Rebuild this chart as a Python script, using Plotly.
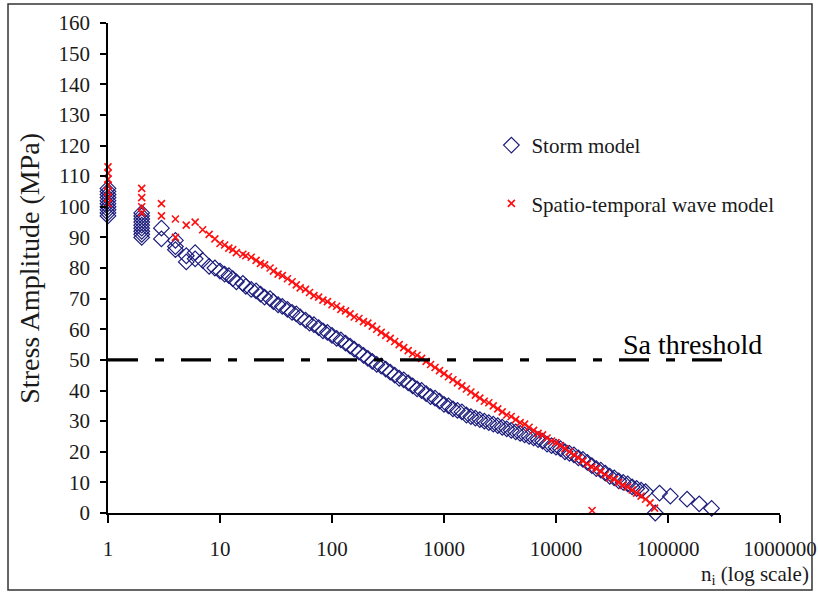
import plotly.graph_objects as go

# ---------------- data ----------------
storm_n = [1, 1, 1, 1, 1, 1, 1, 1, 1, 1,
           2, 2, 2, 2, 2, 2, 2, 2, 2,
           3, 3, 4, 4, 4, 5, 5, 6, 6, 7, 8, 9,
           10, 11, 12, 13, 14, 16, 17, 19, 21, 23, 25, 28, 30, 33, 36, 40, 44, 48, 52, 58, 63, 69, 76, 83, 91,
           100, 110, 120, 132, 145, 158, 174, 191, 209, 229, 251, 275, 302, 331, 363, 398, 437, 479, 525, 575,
           631, 692, 759, 832, 912,
           1000, 1096, 1202, 1318, 1445, 1585, 1738, 1905, 2089, 2291, 2512, 2754, 3020, 3311, 3631, 3981,
           4365, 4786, 5248, 5754, 6310, 6918, 7586, 8318, 9120,
           10000, 10965, 12023, 13183, 14454, 15849, 17378, 19055, 20893, 22909, 25119, 27542, 30200, 33113,
           36308, 39811, 43652, 47863, 52481, 57544, 63096,
           84000, 105000, 148000, 190000, 245000, 77000]
storm_s = [97, 98, 99, 100, 101, 102, 103, 104, 105, 106,
           90, 91, 92, 93, 94, 95, 96, 97, 98,
           93, 89.5, 89, 87, 86, 84, 82, 85, 83, 82.5, 80.5, 80,
           79, 78, 77.5, 76.5, 75.5, 75, 74, 73, 72.5, 71.5, 70.5, 70, 69, 68, 67.5, 66.5, 65.5, 65, 64, 63,
           62, 61.5, 60.5, 59.5, 59,
           58, 57, 56.5, 55.5, 54.5, 53.5, 52.5, 51.5, 50.5, 49.5, 48.5, 48, 47, 46, 45, 44, 43.5, 42.5, 41.5,
           40.5, 40, 39, 38, 37.5, 36.5,
           35.5, 35, 34, 33.5, 33, 32, 31.5, 31, 30.5, 30, 29.5, 29, 28.5, 28, 27.5, 27, 26.5, 26, 25.5, 25,
           24.5, 24, 23.5, 22.5, 22,
           21.5, 21, 20, 19.5, 19, 18, 17.5, 16.5, 15.5, 14.5, 14, 13, 12, 11.5, 10.5, 10, 9.5, 8.5, 8, 7.5, 7,
           6.5, 5.5, 4.5, 3, 1.5, 0]

wave_n = [1, 1, 1, 1, 1, 1, 1,
          2, 2, 2, 2,
          3, 3, 4, 4, 5, 6, 7, 8, 9,
          10, 11, 12, 13, 14, 16, 17, 19, 21, 23, 25, 28, 30, 33, 36, 40, 44, 48, 52, 58, 63, 69, 76, 83, 91,
          100, 110, 120, 132, 145, 158, 174, 191, 209, 229, 251, 275, 302, 331, 363, 398, 437, 479, 525, 575,
          631, 692, 759, 832, 912,
          1000, 1096, 1202, 1318, 1445, 1585, 1738, 1905, 2089, 2291, 2512, 2754, 3020, 3311, 3631, 3981,
          4365, 4786, 5248, 5754, 6310, 6918, 7586, 8318, 9120,
          10000, 10965, 12023, 13183, 14454, 15849, 17378, 19055, 20893, 22909, 25119, 27542, 30200, 33113,
          36308, 39811, 43652, 47863, 52481, 57544, 63096, 69183, 75858,
          21000]
wave_s = [101, 103, 105, 107, 109, 111, 113,
          98, 100, 103, 106,
          97, 101, 90, 96, 94, 95, 92.5, 91, 89.5,
          88, 87.5, 86.5, 86, 85, 84.5, 84, 83.5, 82.5, 81.5, 81, 80, 79, 78, 77.5, 76.5, 75.5, 74.5, 73.5, 73,
          72, 71, 70.5, 69.5, 69,
          68, 67.5, 66.5, 66, 65, 64, 63.5, 62.5, 62, 61, 60, 59, 58, 57, 56, 55, 54, 53, 52, 51.5,
          50.5, 49.5, 48.5, 47.5, 46.5,
          45.5, 44.5, 43.5, 42.5, 41.5, 40.5, 39.5, 38.5, 37.5, 36.5, 36, 35, 34, 33, 32, 31.5, 30.5, 29.5, 29, 28,
          27, 26, 25.5, 24.5, 23.5,
          23, 22, 21, 20, 19, 18, 17, 16, 15, 14.5, 13.5, 12.5, 11.5, 11, 10, 9, 8.5, 7.5, 6.5, 5.5, 4.5, 3.3, 1.6,
          0.8]

threshold_s = 50
threshold_n = [1, 325000]
threshold_label = "Sa threshold"

x_ticks = [1, 10, 100, 1000, 10000, 100000, 1000000]
x_tick_labels = ["1", "10", "100", "1000", "10000", "100000", "1000000"]
y_ticks = [0, 10, 20, 30, 40, 50, 60, 70, 80, 90, 100, 110, 120, 130, 140, 150, 160]

FONT = "Times New Roman, Liberation Serif, DejaVu Serif, serif"
TXT = "#1a1a1a"

fig = go.Figure()
fig.add_trace(go.Scatter(
    x=storm_n, y=storm_s, mode="markers", name="Storm model", legendgroup="a",
    cliponaxis=False,
    marker=dict(symbol="diamond-open", size=12, color="#1c1c7c", line=dict(width=1.2, color="#1c1c7c")),
))
fig.add_trace(go.Scatter(
    x=wave_n, y=wave_s, mode="markers", name="Spatio-temporal wave model", legendgroup="b",
    cliponaxis=False,
    marker=dict(symbol="x-thin", size=7, color="#ff1010", line=dict(width=1.6, color="#ff1010")),
))
fig.add_trace(go.Scatter(
    x=threshold_n, y=[threshold_s, threshold_s], mode="lines", showlegend=False,
    line=dict(color="black", width=3.2, dash="30px,17px,9px,17px"),
))

fig.add_annotation(text=threshold_label, xref="paper", yref="paper", x=0.764, y=0.343,
                   xanchor="left", yanchor="middle", showarrow=False,
                   font=dict(family=FONT, size=28, color="black"))
fig.add_annotation(text="Stress Amplitude (MPa)", xref="paper", yref="paper", x=-0.118, y=0.5,
                   xanchor="center", yanchor="middle", textangle=-90, showarrow=False,
                   font=dict(family=FONT, size=28, color=TXT))
fig.add_annotation(text="n<sub>i</sub> (log scale)", xref="paper", yref="paper", x=1.046, y=-0.127,
                   xanchor="right", yanchor="middle", showarrow=False,
                   font=dict(family=FONT, size=21, color=TXT))

fig.add_shape(type="rect", xref="paper", yref="paper", x0=-0.1488, x1=1.0476, y0=-0.157, y1=1.0388,
              line=dict(color="#333333", width=1.5), layer="above")

fig.update_layout(
    width=818, height=595,
    margin=dict(l=108, r=38, t=23, b=82, autoexpand=False),
    paper_bgcolor="white", plot_bgcolor="white",
    font=dict(family=FONT, size=21, color=TXT),
    hovermode=False,
    legend=dict(x=0.5705, y=0.792, xanchor="left", yanchor="top", tracegroupgap=28, itemwidth=30,
                bgcolor="rgba(0,0,0,0)", font=dict(family=FONT, size=21, color=TXT)),
    xaxis=dict(type="log", range=[0, 6], tickvals=x_ticks, ticktext=x_tick_labels, automargin=False,
               showgrid=False, zeroline=False, showline=True, linecolor="black", linewidth=1.5,
               ticks="outside", ticklen=8, tickwidth=1.5, tickcolor="black",
               ticklabelstandoff=8, tickfont=dict(family=FONT, size=21, color=TXT)),
    yaxis=dict(range=[0, 160], tickvals=y_ticks, showgrid=False, zeroline=False, automargin=False,
               showline=True, linecolor="black", linewidth=1.5,
               ticks="outside", ticklen=6, tickwidth=1.5, tickcolor="black",
               ticklabelstandoff=6, tickfont=dict(family=FONT, size=21, color=TXT)),
)

fig.write_html("out.html", config={"displayModeBar": False},
               post_script="document.body.style.margin='0px';document.body.style.overflow='hidden';")
